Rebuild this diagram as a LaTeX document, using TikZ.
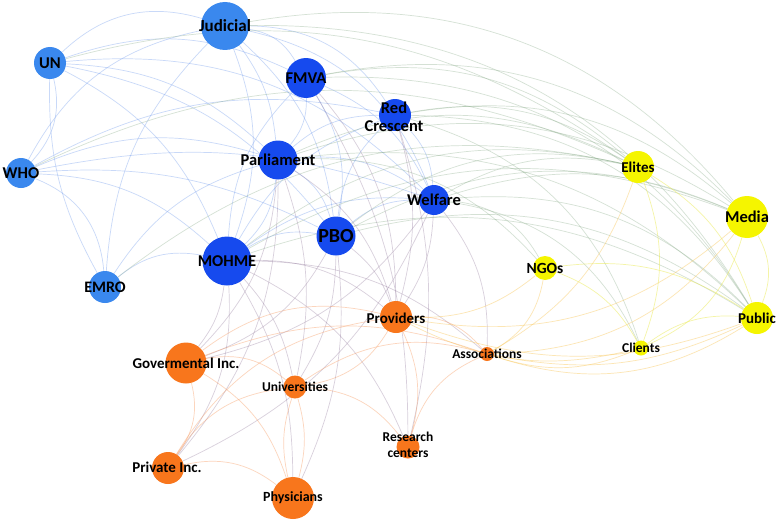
\documentclass[tikz,border=0pt]{standalone}
\usepackage{fontspec}
\setmainfont{Carlito}
\usetikzlibrary{backgrounds}
\definecolor{lblue}{RGB}{58,136,238}
\definecolor{dblue}{RGB}{22,74,238}
\definecolor{yel}{RGB}{245,245,0}
\definecolor{ora}{RGB}{248,118,28}
\definecolor{ebbc}{RGB}{120,160,238}
\definecolor{ebyc}{RGB}{135,170,135}
\definecolor{eboc}{RGB}{145,120,155}
\definecolor{eooc}{RGB}{248,150,90}
\definecolor{eoyc}{RGB}{250,200,90}
\definecolor{eyyc}{RGB}{235,235,80}
\tikzset{
  nd/.style={circle,fill=#1,draw=none,inner sep=0pt},
  lbl/.style={font=\bfseries\fontsize{16.5}{17}\selectfont,text=black,inner sep=0pt,align=center},
  lbm/.style={font=\bfseries\fontsize{15}{16}\selectfont,text=black,inner sep=0pt,align=center},
  lbs/.style={font=\bfseries\fontsize{13.5}{15.5}\selectfont,text=black,inner sep=0pt,align=center},
  ebb/.style={draw=ebbc,draw opacity=0.4,line width=0.7pt},
  eby/.style={draw=ebyc,draw opacity=0.35,line width=0.7pt},
  ebo/.style={draw=eboc,draw opacity=0.35,line width=0.7pt},
  eoo/.style={draw=eooc,draw opacity=0.4,line width=0.7pt},
  eoy/.style={draw=eoyc,draw opacity=0.45,line width=0.7pt},
  eyy/.style={draw=eyyc,draw opacity=0.5,line width=0.7pt},
}
\begin{document}
\begin{tikzpicture}[x=1pt,y=-1pt]
\useasboundingbox (0,0) rectangle (778,519);
% blue nodes
\node[nd=lblue,minimum size=48] (jud) at (225,26) {};
\node[lbl,font=\bfseries\fontsize{17}{18}\selectfont] (judl) at (jud) {Judicial};
\node[nd=lblue,minimum size=32] (un) at (50,63) {};
\node[lbl] (unl) at (un) {UN};
\node[nd=lblue,minimum size=30] (who) at (21,173) {};
\node[lbl] (whol) at (who) {WHO};
\node[nd=lblue,minimum size=32] (emro) at (105,287) {};
\node[lbl,font=\bfseries\fontsize{16}{17}\selectfont] (emrol) at (emro) {EMRO};
\node[nd=dblue,minimum size=40] (fmva) at (306,78) {};
\node[lbl] (fmval) at (fmva) {FMVA};
\node[nd=dblue,minimum size=32] (red) at (395,115) {};
\node[lbl,font=\bfseries\fontsize{16.5}{18}\selectfont] (redl) at (394,117) {Red\\Crescent};
\node[nd=dblue,minimum size=39] (par) at (278,160) {};
\node[lbl] (parl) at (par) {Parliament};
\node[nd=dblue,minimum size=30] (wel) at (434,200) {};
\node[lbl] (well) at (wel) {Welfare};
\node[nd=dblue,minimum size=39] (pbo) at (336,236) {};
\node[lbl,font=\bfseries\fontsize{20}{21}\selectfont] (pbol) at (pbo) {PBO};
\node[nd=dblue,minimum size=49] (moh) at (227,261) {};
\node[lbl] (mohl) at (moh) {MOHME};
% yellow nodes
\node[nd=yel,minimum size=32] (eli) at (638,167) {};
\node[lbm] (elil) at (eli) {Elites};
\node[nd=yel,minimum size=42] (med) at (747,217) {};
\node[lbl] (medl) at (med) {Media};
\node[nd=yel,minimum size=24] (ngo) at (545,268) {};
\node[lbm,font=\bfseries\fontsize{15.5}{16}\selectfont] (ngol) at (ngo) {NGOs};
\node[nd=yel,minimum size=32] (pub) at (757,318) {};
\node[lbm] (publ) at (pub) {Public};
\node[nd=yel,minimum size=15] (cli) at (641,348) {};
\node[lbs] (clil) at (cli) {Clients};
% orange nodes
\node[nd=ora,minimum size=32] (pro) at (396,317) {};
\node[lbm] (prol) at (396,318) {Providers};
\node[nd=ora,minimum size=14] (ass) at (487,354) {};
\node[lbs] (assl) at (ass) {Associations};
\node[nd=ora,minimum size=41] (gov) at (186,363) {};
\node[lbm] (govl) at (gov) {Govermental Inc.};
\node[nd=ora,minimum size=23] (uni) at (295,387) {};
\node[lbs] (unil) at (uni) {Universities};
\node[nd=ora,minimum size=23] (res) at (408,447) {};
\node[lbs] (resl) at (408,445) {Research\\centers};
\node[nd=ora,minimum size=32] (pri) at (168,468) {};
\node[lbm] (pril) at (167,467) {Private Inc.};
\node[nd=ora,minimum size=42] (phy) at (293,498) {};
\node[lbs,font=\bfseries\fontsize{14}{15}\selectfont] (phyl) at (phy) {Physicians};

\begin{pgfonlayer}{background}
\fill[white] (0,0) rectangle (778,519);
% blue-blue
\foreach \a/\b/\c in {un/jud/30,who/jud/25,jud/fmva/25,jud/par/15,jud/moh/20,jud/pbo/20,jud/wel/28,emro/jud/20,jud/red/28,
  un/who/28,emro/un/15,un/moh/20,un/par/20,un/fmva/22,un/wel/25,un/pbo/20,
  who/emro/32,who/moh/20,who/par/20,who/wel/15,who/pbo/15,who/red/20,
  emro/moh/25,emro/par/20,par/moh/20,moh/pbo/20,moh/wel/20,moh/fmva/20,moh/red/20,
  fmva/par/20,par/pbo/20,par/wel/20,par/red/20,pbo/wel/20,pbo/red/20,fmva/wel/20,fmva/pbo/20,red/wel/20}
  {\draw[ebb] (\a) to[bend left=\c] (\b);}
% blue-yellow
\foreach \a/\b/\c in {jud/med/30,jud/pub/30,un/eli/25,who/eli/25,fmva/eli/25,fmva/med/28,fmva/pub/30,red/eli/22,red/med/25,red/pub/28,red/cli/28,
  par/eli/25,par/med/25,par/pub/25,par/ngo/25,wel/eli/20,wel/pub/25,wel/cli/28,wel/ngo/28,wel/med/20,pbo/med/25,pbo/pub/25,pbo/eli/25,
  moh/med/25,moh/eli/25,moh/pub/25,emro/eli/25}
  {\draw[eby] (\a) to[bend left=\c] (\b);}
% blue-orange
\foreach \a/\b/\c in {moh/gov/15,moh/uni/15,moh/pri/20,moh/phy/15,moh/pro/20,moh/res/20,moh/ass/20,pbo/pro/15,pbo/uni/15,pbo/gov/20,pbo/phy/15,
  par/gov/20,par/pri/20,par/uni/15,par/pro/20,wel/pro/15,wel/ass/20,wel/pri/20,red/pro/15,red/res/15,fmva/pro/20,fmva/res/15,wel/gov/20}
  {\draw[ebo] (\a) to[bend left=\c] (\b);}
% orange-orange
\foreach \a/\b/\c in {pro/ass/25,gov/pro/25,pro/res/20,pro/uni/25,pri/pro/25,gov/uni/25,pri/uni/25,uni/phy/15,phy/uni/15,uni/res/25,uni/ass/25,
  pri/phy/25,gov/phy/20,gov/pri/25,res/ass/25,gov/ass/20}
  {\draw[eoo] (\a) to[bend left=\c] (\b);}
% orange-yellow
\foreach \a/\b/\c in {ass/eli/20,ass/med/25,ass/pub/25,ass/cli/20,ass/ngo/25,pro/pub/20,pro/cli/20,pro/ngo/20,pro/med/25,ass/pub/18}
  {\draw[eoy] (\a) to[bend right=\c] (\b);}
% yellow-yellow
\foreach \a/\b/\c in {eli/cli/20,eli/pub/20,med/pub/25,med/cli/25,ngo/cli/20,ngo/pub/20,cli/pub/20}
  {\draw[eyy] (\a) to[bend left=\c] (\b);}
\end{pgfonlayer}
\end{tikzpicture}
\end{document}
